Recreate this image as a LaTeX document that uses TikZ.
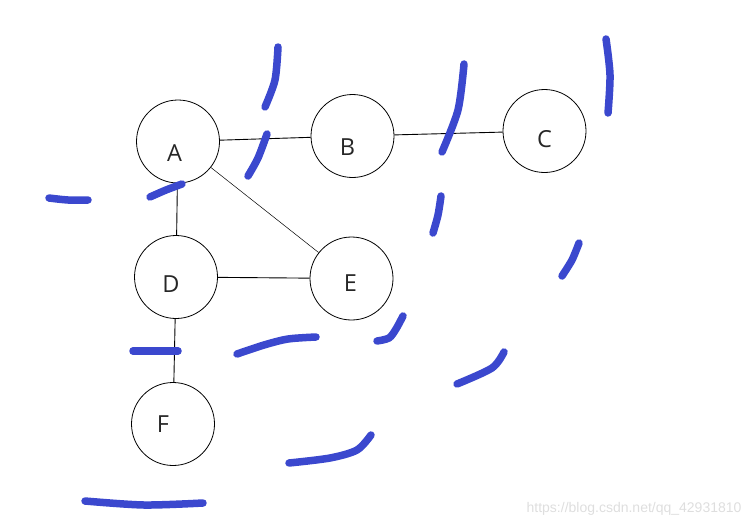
\documentclass[tikz,border=0pt]{standalone}
\usepackage{fontspec}
\setmainfont{Open Sans}
\newfontfamily\markfont{Liberation Sans}
\definecolor{penblue}{RGB}{59,72,206}
\definecolor{markgray}{RGB}{222,222,222}
\tikzset{
  vertex/.style={draw, circle, line width=0.8pt, minimum size=83pt, inner sep=0pt},
  letter/.style={inner sep=0pt, font=\fontsize{23.5}{26}\selectfont, text=black!85},
  edge/.style={line width=0.9pt},
  bluestroke/.style={penblue, line width=7.5pt, line cap=round, line join=round},
}
\begin{document}
\begin{tikzpicture}[x=1pt, y=-1pt]
\useasboundingbox (0,0) rectangle (751,527);

% --- Vertices (name / centre / letter offset) ---
\foreach \n/\x/\y/\dx/\dy in {A/178/141.5/-3.5/12, B/352.5/136/-5/11, C/544.5/131/0/8,
                              D/176/277/-5/7, E/351.5/278.5/-1/5, F/173/424/-10/0} {
    \node[vertex] (\n) at (\x,\y) {};
    \node[letter] (\n-txt) at ([shift={(\dx,\dy)}]\n.center) {\n};
}

% Edges
\draw[edge] (A) -- (B);
\draw[edge] (B) -- (C);
\draw[edge] (A) -- (D);
\draw[line width=0.5pt] (A) -- (E);
\draw[edge] (D) -- (E);
\draw[edge] (D) -- (F);

% --- Hand-drawn blue strokes ---
% left of A
\draw[bluestroke] plot[smooth] coordinates {(49,198) (68,200) (88,200)};
\draw[bluestroke] plot[smooth] coordinates {(150,197) (166,190) (182,184)};
% between A and B
\draw[bluestroke] plot[smooth] coordinates {(278,47) (275,80) (265,107)};
\draw[bluestroke] plot[smooth] coordinates {(267,134) (258,158) (248,176)};
% between B and C
\draw[bluestroke] plot[smooth] coordinates {(464,64) (458,110) (442,152)};
\draw[bluestroke] plot[smooth] coordinates {(441,196) (438,215) (433,233)};
% right of C
\draw[bluestroke] plot[smooth] coordinates {(606,39) (610,75) (608,113)};
\draw[bluestroke] plot[smooth] coordinates {(579,243) (572,260) (562,276)};
% between D and F
\draw[bluestroke] plot[smooth] coordinates {(133,351) (156,351) (178,351)};
\draw[bluestroke] plot[smooth] coordinates {(237,354) (264,345) (288,339) (316,337)};
\draw[bluestroke] plot[smooth] coordinates {(403,316) (396,329) (389,338) (377,341)};
\draw[bluestroke] plot[smooth] coordinates {(504,352) (492,368) (457,384)};
% below F
\draw[bluestroke] plot[smooth] coordinates {(371,435) (357,450) (330,458) (289,463)};
\draw[bluestroke] plot[smooth] coordinates {(85,501) (144,505) (203,503)};

% Watermark
\node[markgray, font=\markfont\fontsize{14}{16}\selectfont, anchor=east] (mark) at (745,509)
    {https://blog.csdn.net/qq\_42931810};

\end{tikzpicture}
\end{document}
